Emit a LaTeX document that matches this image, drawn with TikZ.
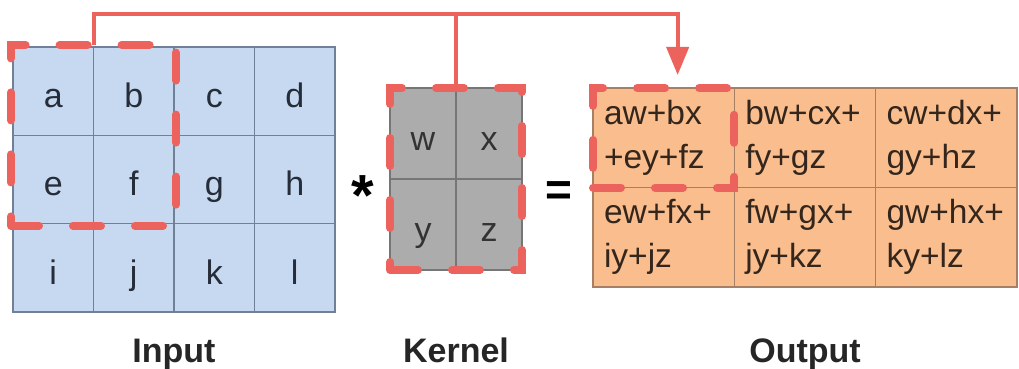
\documentclass[tikz,border=0pt]{standalone}
\usepackage{fontspec}
\setmainfont{Liberation Sans}
\usepackage{tikz}
\usetikzlibrary{positioning,fit,arrows.meta}

\definecolor{inblue}{RGB}{198,217,240}
\definecolor{ingrid}{RGB}{112,128,150}
\definecolor{intext}{RGB}{38,44,56}
\definecolor{kgray}{RGB}{172,172,172}
\definecolor{kgrid}{RGB}{118,118,118}
\definecolor{outpeach}{RGB}{250,190,142}
\definecolor{outgrid}{RGB}{165,128,100}
\definecolor{outtext}{RGB}{52,38,28}
\definecolor{slidered}{RGB}{236,98,92}

\begin{document}
\begin{tikzpicture}[x=1pt,y=-1pt,
	incell/.style={rectangle,minimum width=80.5pt,minimum height=88.3pt,inner sep=0pt,outer sep=0pt,draw=ingrid,line width=1.2pt,fill=inblue,font=\fontsize{34}{34}\selectfont,text=intext,text height=33pt,text depth=0pt},
	kcell/.style={rectangle,minimum width=66pt,minimum height=91pt,inner sep=0pt,outer sep=0pt,draw=kgrid,line width=1.2pt,fill=kgray,font=\fontsize{34}{34}\selectfont,text=black!80,text height=33pt,text depth=0pt},
	outcell/.style={rectangle,minimum width=141.3pt,minimum height=99.5pt,text width=119.3pt,inner xsep=11pt,inner ysep=0pt,outer sep=0pt,align=left,draw=outgrid,line width=1.2pt,fill=outpeach,font=\fontsize{33.5}{44}\selectfont,text=outtext},
	window/.style={draw=slidered,line width=8pt,dash pattern=on 28pt off 34pt,line cap=round,inner sep=0pt,outer sep=0pt},
	link/.style={draw=slidered,line width=4pt},
	caption/.style={font=\bfseries\fontsize{34}{34}\selectfont,anchor=base,text=black!85},
	node distance=0pt]
		\useasboundingbox (0,0) rectangle (1019,369);
		% input 3x4
		\node (in1) [incell] at (53.25,91.15) {a};
		\node (in2) [incell,right=of in1] {b};
		\node (in3) [incell,right=of in2] {c};
		\node (in4) [incell,right=of in3] {d};
		\node (in5) [incell,below=of in1] {e};
		\node (in6) [incell,right=of in5] {f};
		\node (in7) [incell,right=of in6] {g};
		\node (in8) [incell,right=of in7] {h};
		\node (in9) [incell,below=of in5] {i};
		\node (in10) [incell,right=of in9] {j};
		\node (in11) [incell,right=of in10] {k};
		\node (in12) [incell,right=of in11] {l};
		% kernel 2x2
		\node (k1) [kcell] at (423,133.5) {w};
		\node (k2) [kcell,right=of k1] {x};
		\node (k3) [kcell,below=of k1] {y};
		\node (k4) [kcell,right=of k3] {z};
		% output 2x3
		\node (out1) [outcell] at (663.65,137.75) {aw+bx\\+ey+fz};
		\node (out2) [outcell,right=of out1] {bw+cx+\\fy+gz};
		\node (out3) [outcell,right=of out2] {cw+dx+\\gy+hz};
		\node (out4) [outcell,below=of out1] {ew+fx+\\iy+jz};
		\node (out5) [outcell,right=of out4] {fw+gx+\\jy+kz};
		\node (out6) [outcell,right=of out5] {gw+hx+\\ky+lz};
		\node (times) at (363,196) {\fontsize{58}{58}\selectfont\bfseries *};
		\node (equals) at (559,194) {\fontsize{46}{46}\selectfont\bfseries =};
		\node (inlabel) [caption] at (174,362) {Input};
		\node (klabel) [caption] at (456,362) {Kernel};
		\node (outlabel) [caption] at (805,362) {Output};
		% sliding windows
		\node (inwin) [window,fit=(in1)(in6),inner sep=2pt] {};
		\node (kwin) [window,fit=(k1)(k4)] {};
		\node (outwin) [window,fit=(out1)] {};
		\coordinate (bus) at (0,14);
		\coordinate (drop) at ([xshift=14pt]outwin.north);
		\draw[link,-{Triangle[width=22pt,length=28pt]},shorten >=13pt] (inwin.north) |- (drop |- bus) -- (drop);
		\draw[link] (kwin.north) -- (kwin.north |- bus);
	\end{tikzpicture}
\end{document}
